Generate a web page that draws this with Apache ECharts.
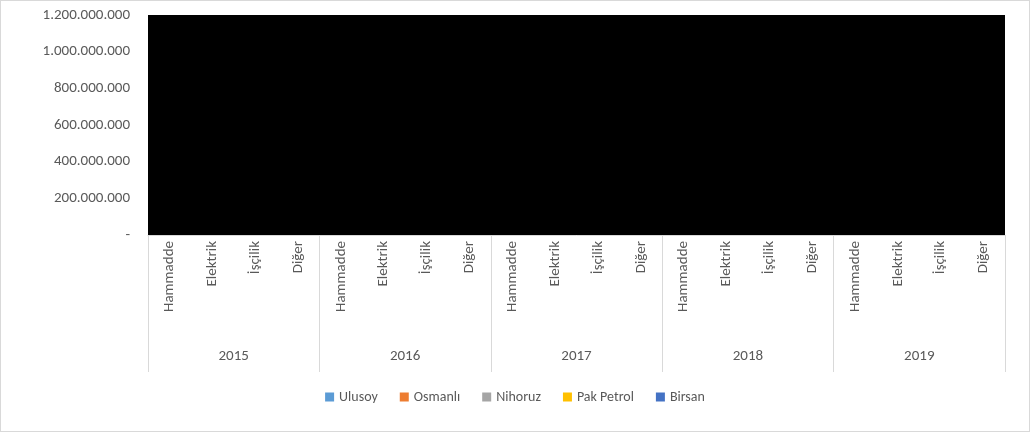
<!DOCTYPE html><html><head><meta charset="utf-8"><script src="https://cdn.jsdelivr.net/npm/echarts@6/dist/echarts.min.js"></script>
<style>body{margin:0}#c{width:1030px;height:432px;box-sizing:border-box;border:1px solid #d9d9d9}</style></head><body><div id="c"></div><script>
const years=['2015','2016','2017','2018','2019'];
const items=['Hammadde','Elektrik','İşçilik','Diğer'];
const categories=[];years.forEach(()=>items.forEach(i=>categories.push(i)));
const seriesNames=['Ulusoy','Osmanlı','Nihoruz','Pak Petrol','Birsan'];
const colors=['#5b9bd5','#ed7d31','#a5a5a5','#ffc000','#4472c4'];
// values are hidden behind the black plot area in the reference and cannot be read
const ulusoy=new Array(20).fill(null),osmanli=new Array(20).fill(null),nihoruz=new Array(20).fill(null),pakPetrol=new Array(20).fill(null),birsan=new Array(20).fill(null);
const vals=[ulusoy,osmanli,nihoruz,pakPetrol,birsan];
const c=echarts.init(document.getElementById('c'));
const txt={color:'#595959',fontFamily:'Calibri, Carlito, "Liberation Sans", sans-serif',fontSize:15};
c.setOption({
 animation:false,
 color:colors,
 grid:{left:147,right:24,top:14,bottom:196,show:true,backgroundColor:'#000',borderWidth:0},
 legend:{bottom:22,itemWidth:9,itemHeight:9,itemGap:22,icon:'rect',textStyle:{...txt,fontSize:14},data:seriesNames},
 xAxis:[
  {type:'category',data:categories,axisLine:{lineStyle:{color:'#d9d9d9'}},axisTick:{show:false},axisLabel:{...txt,rotate:90,margin:6,interval:0}},
  {type:'category',data:years,position:'bottom',axisLine:{show:false},axisTick:{show:true,length:137,lineStyle:{color:'#d9d9d9'}},axisLabel:{...txt,margin:114}}
 ],
 yAxis:{type:'value',min:0,max:1200000000,interval:200000000,axisLine:{show:false},axisTick:{show:false},splitLine:{show:false},
  axisLabel:{...txt,margin:18,formatter:v=>v===0?'-':v.toString().replace(/\B(?=(\d{3})+(?!\d))/g,'.')}},
 series:seriesNames.map((n,i)=>({name:n,type:'bar',data:vals[i],xAxisIndex:0}))
});
</script></body></html>
